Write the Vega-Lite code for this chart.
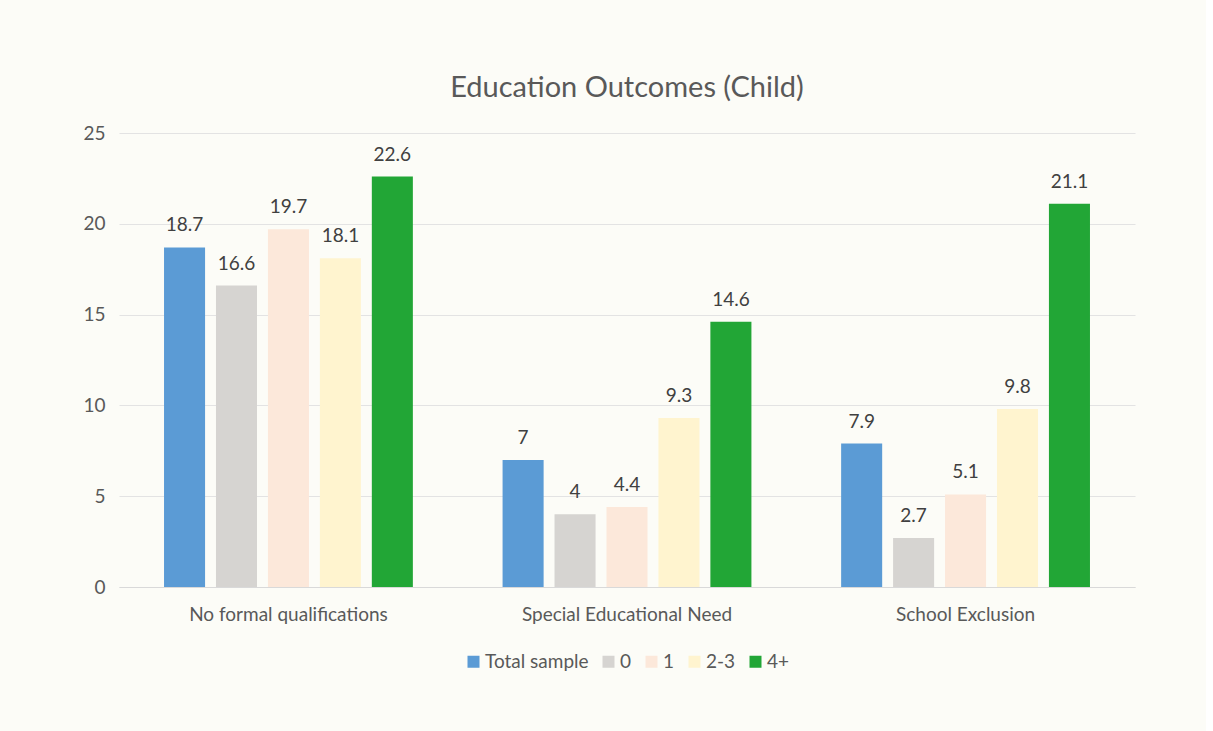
{
  "$schema": "https://vega.github.io/schema/vega-lite/v6.json",
  "width": 1016,
  "height": 454,
  "padding": {"left": 82, "top": 74, "right": 71, "bottom": 61},
  "autosize": {"type": "pad"},
  "background": "#fcfcf7",
  "title": {
    "text": "Education Outcomes (Child)",
    "fontSize": 29,
    "font": "Lato",
    "fontWeight": "normal",
    "color": "#595959",
    "offset": 21,
    "anchor": "middle"
  },
  "data": {
    "values": [
      {"category": "No formal qualifications", "group": "Total sample", "value": 18.7},
      {"category": "No formal qualifications", "group": "0", "value": 16.6},
      {"category": "No formal qualifications", "group": "1", "value": 19.7},
      {"category": "No formal qualifications", "group": "2-3", "value": 18.1},
      {"category": "No formal qualifications", "group": "4+", "value": 22.6},
      {"category": "Special Educational Need", "group": "Total sample", "value": 7},
      {"category": "Special Educational Need", "group": "0", "value": 4},
      {"category": "Special Educational Need", "group": "1", "value": 4.4},
      {"category": "Special Educational Need", "group": "2-3", "value": 9.3},
      {"category": "Special Educational Need", "group": "4+", "value": 14.6},
      {"category": "School Exclusion", "group": "Total sample", "value": 7.9},
      {"category": "School Exclusion", "group": "0", "value": 2.7},
      {"category": "School Exclusion", "group": "1", "value": 5.1},
      {"category": "School Exclusion", "group": "2-3", "value": 9.8},
      {"category": "School Exclusion", "group": "4+", "value": 21.1}
    ]
  },
  "encoding": {
    "x": {
      "field": "category",
      "type": "nominal",
      "sort": null,
      "scale": {"paddingInner": 0.265, "paddingOuter": 0.133},
      "axis": {
        "title": null,
        "labelAngle": 0,
        "labelFontSize": 19,
        "labelFont": "Lato",
        "labelColor": "#595959",
        "labelPadding": 18,
        "labelLimit": 0,
        "domainColor": "#d9d9d9",
        "ticks": false
      }
    },
    "xOffset": {
      "field": "group",
      "type": "nominal",
      "sort": ["Total sample", "0", "1", "2-3", "4+"],
      "scale": {"paddingInner": 0.21, "paddingOuter": 0}
    },
    "y": {
      "field": "value",
      "type": "quantitative",
      "scale": {"domain": [0, 25]},
      "axis": {
        "title": null,
        "values": [0, 5, 10, 15, 20, 25],
        "labelFontSize": 19,
        "labelFont": "Lato",
        "labelColor": "#595959",
        "labelPadding": 14,
        "domain": false,
        "ticks": false,
        "gridColor": "#e3e3e3"
      }
    }
  },
  "layer": [
    {
      "mark": {"type": "bar"},
      "encoding": {
        "color": {
          "field": "group",
          "type": "nominal",
          "sort": ["Total sample", "0", "1", "2-3", "4+"],
          "scale": {
            "domain": ["Total sample", "0", "1", "2-3", "4+"],
            "range": ["#5b9bd5", "#d6d4d1", "#fce8da", "#fff4cf", "#22a636"]
          },
          "legend": {
            "title": null,
            "orient": "bottom",
            "direction": "horizontal",
            "symbolType": "square",
            "symbolSize": 144,
            "symbolStrokeWidth": 0,
            "labelFontSize": 19,
            "labelFont": "Lato",
            "labelColor": "#595959",
            "labelOffset": 2,
            "columnPadding": 10,
            "offset": 28
          }
        }
      }
    },
    {
      "mark": {"type": "text", "dy": -22, "fontSize": 19, "font": "Lato", "color": "#404040"},
      "encoding": {
        "text": {"field": "value", "type": "quantitative"}
      }
    }
  ],
  "config": {
    "view": {"stroke": null},
    "legend": {"layout": {"bottom": {"anchor": "middle"}}}
  }
}
